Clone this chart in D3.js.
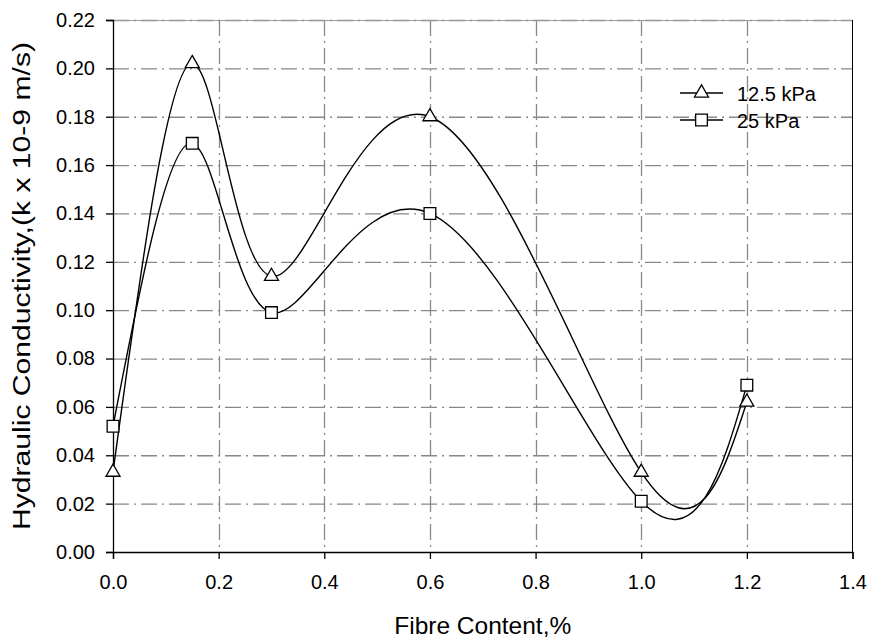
<!DOCTYPE html>
<html><head><meta charset="utf-8">
<script src="https://cdn.jsdelivr.net/npm/d3@7"></script>
<style>body{margin:0;background:#fff}svg{display:block}text{font-family:"Liberation Sans",Arial,sans-serif}</style>
</head><body><svg id="c" width="872" height="641"></svg>
<script>
const fibre = [0, 0.15, 0.3, 0.6, 1.0, 1.2];
const k125 = [0.033, 0.202, 0.114, 0.180, 0.033, 0.062];
const k25 = [0.052, 0.169, 0.099, 0.140, 0.021, 0.069];
const seriesNames = ["12.5 kPa", "25 kPa"];
const xTicks = [0, 0.2, 0.4, 0.6, 0.8, 1.0, 1.2, 1.4];
const yTicks = [0, 0.02, 0.04, 0.06, 0.08, 0.10, 0.12, 0.14, 0.16, 0.18, 0.20, 0.22];

const svg = d3.select("#c");
const L = 113, R = 852.5, T = 20, B = 552;
const x = d3.scaleLinear().domain([0, 1.4]).range([L, R]);
const y = d3.scaleLinear().domain([0, 0.22]).range([B, T]);
const gridC = "#888", dash = "16,5,2,5";

svg.append("g").selectAll("line").data(yTicks.filter(d => d > 0)).join("line")
  .attr("x1", L).attr("x2", R).attr("y1", d => y(d) + 0.5).attr("y2", d => y(d) + 0.5)
  .attr("stroke", gridC).attr("stroke-width", 1.3).attr("stroke-dasharray", dash);
svg.append("g").selectAll("line").data(xTicks.filter(d => d > 0 && d < 1.4)).join("line")
  .attr("x1", d => Math.round(x(d)) + 0.5).attr("x2", d => Math.round(x(d)) + 0.5).attr("y1", T).attr("y2", B)
  .attr("stroke", gridC).attr("stroke-width", 1.3).attr("stroke-dasharray", dash);
svg.append("line").attr("x1", L).attr("x2", R).attr("y1", T + 0.5).attr("y2", T + 0.5).attr("stroke", "#999").attr("stroke-width", 1);
svg.append("line").attr("x1", R).attr("x2", R).attr("y1", T).attr("y2", B).attr("stroke", "#000").attr("stroke-width", 1);

const fmt = d3.format(".1f"), fmtY = d3.format(".2f");
const xAxis = d3.axisBottom(x).tickValues(xTicks).tickFormat(fmt).tickSize(7).tickPadding(16);
const yAxis = d3.axisLeft(y).tickValues(yTicks).tickFormat(fmtY).tickSize(7).tickPadding(11);
const gx = svg.append("g").attr("transform", `translate(0,${B})`).call(xAxis);
const gy = svg.append("g").attr("transform", `translate(${L},0)`).call(yAxis);
[gx, gy].forEach(g => {
  g.select(".domain").attr("stroke", "#000").attr("stroke-width", 1.3);
  g.selectAll(".tick line").attr("stroke", "#000").attr("stroke-width", 1.3);
  g.selectAll("text").attr("fill", "#000").style("font-size", "20px").style("font-family", "Liberation Sans, Arial, sans-serif");
});

svg.append("text").attr("x", (L + R) / 2).attr("y", 634).attr("text-anchor", "middle")
  .style("font-size", "24.5px").text("Fibre Content,%");
svg.append("text").attr("transform", `translate(30,${(T + B) / 2}) rotate(-90)`).attr("text-anchor", "middle")
  .attr("textLength", 488).attr("lengthAdjust", "spacingAndGlyphs")
  .style("font-size", "23px").text("Hydraulic Conductivity,(k x 10-9 m/s)");

const series = [k125, k25];
const line = d3.line().x(d => x(d[0])).y(d => y(d[1])).curve(d3.curveNatural);
series.forEach(vals => {
  svg.append("path").datum(fibre.map((f, i) => [f, vals[i]])).attr("d", line)
    .attr("fill", "none").attr("stroke", "#000").attr("stroke-width", 1.4);
});

const tri = d3.symbol().type(d3.symbolTriangle).size(85);
const sq = d3.symbol().type(d3.symbolSquare).size(137);
function marker(g, type, cx, cy) {
  g.append("path").attr("d", type === 0 ? tri() : sq())
    .attr("transform", `translate(${cx},${cy})`)
    .attr("fill", "#fff").attr("stroke", "#000").attr("stroke-width", 1.3);
}
const mg = svg.append("g");
series.forEach((vals, s) => fibre.forEach((f, i) => marker(mg, s, x(f), y(vals[i]))));

const lg = svg.append("g");
[93, 120].forEach((ly, s) => {
  lg.append("line").attr("x1", 680).attr("x2", 723).attr("y1", ly).attr("y2", ly).attr("stroke", "#000").attr("stroke-width", 1.3);
  marker(lg, s, 701.5, ly);
  lg.append("text").attr("x", 737).attr("y", ly + 8).style("font-size", "20px").text(seriesNames[s]);
});
</script></body></html>
